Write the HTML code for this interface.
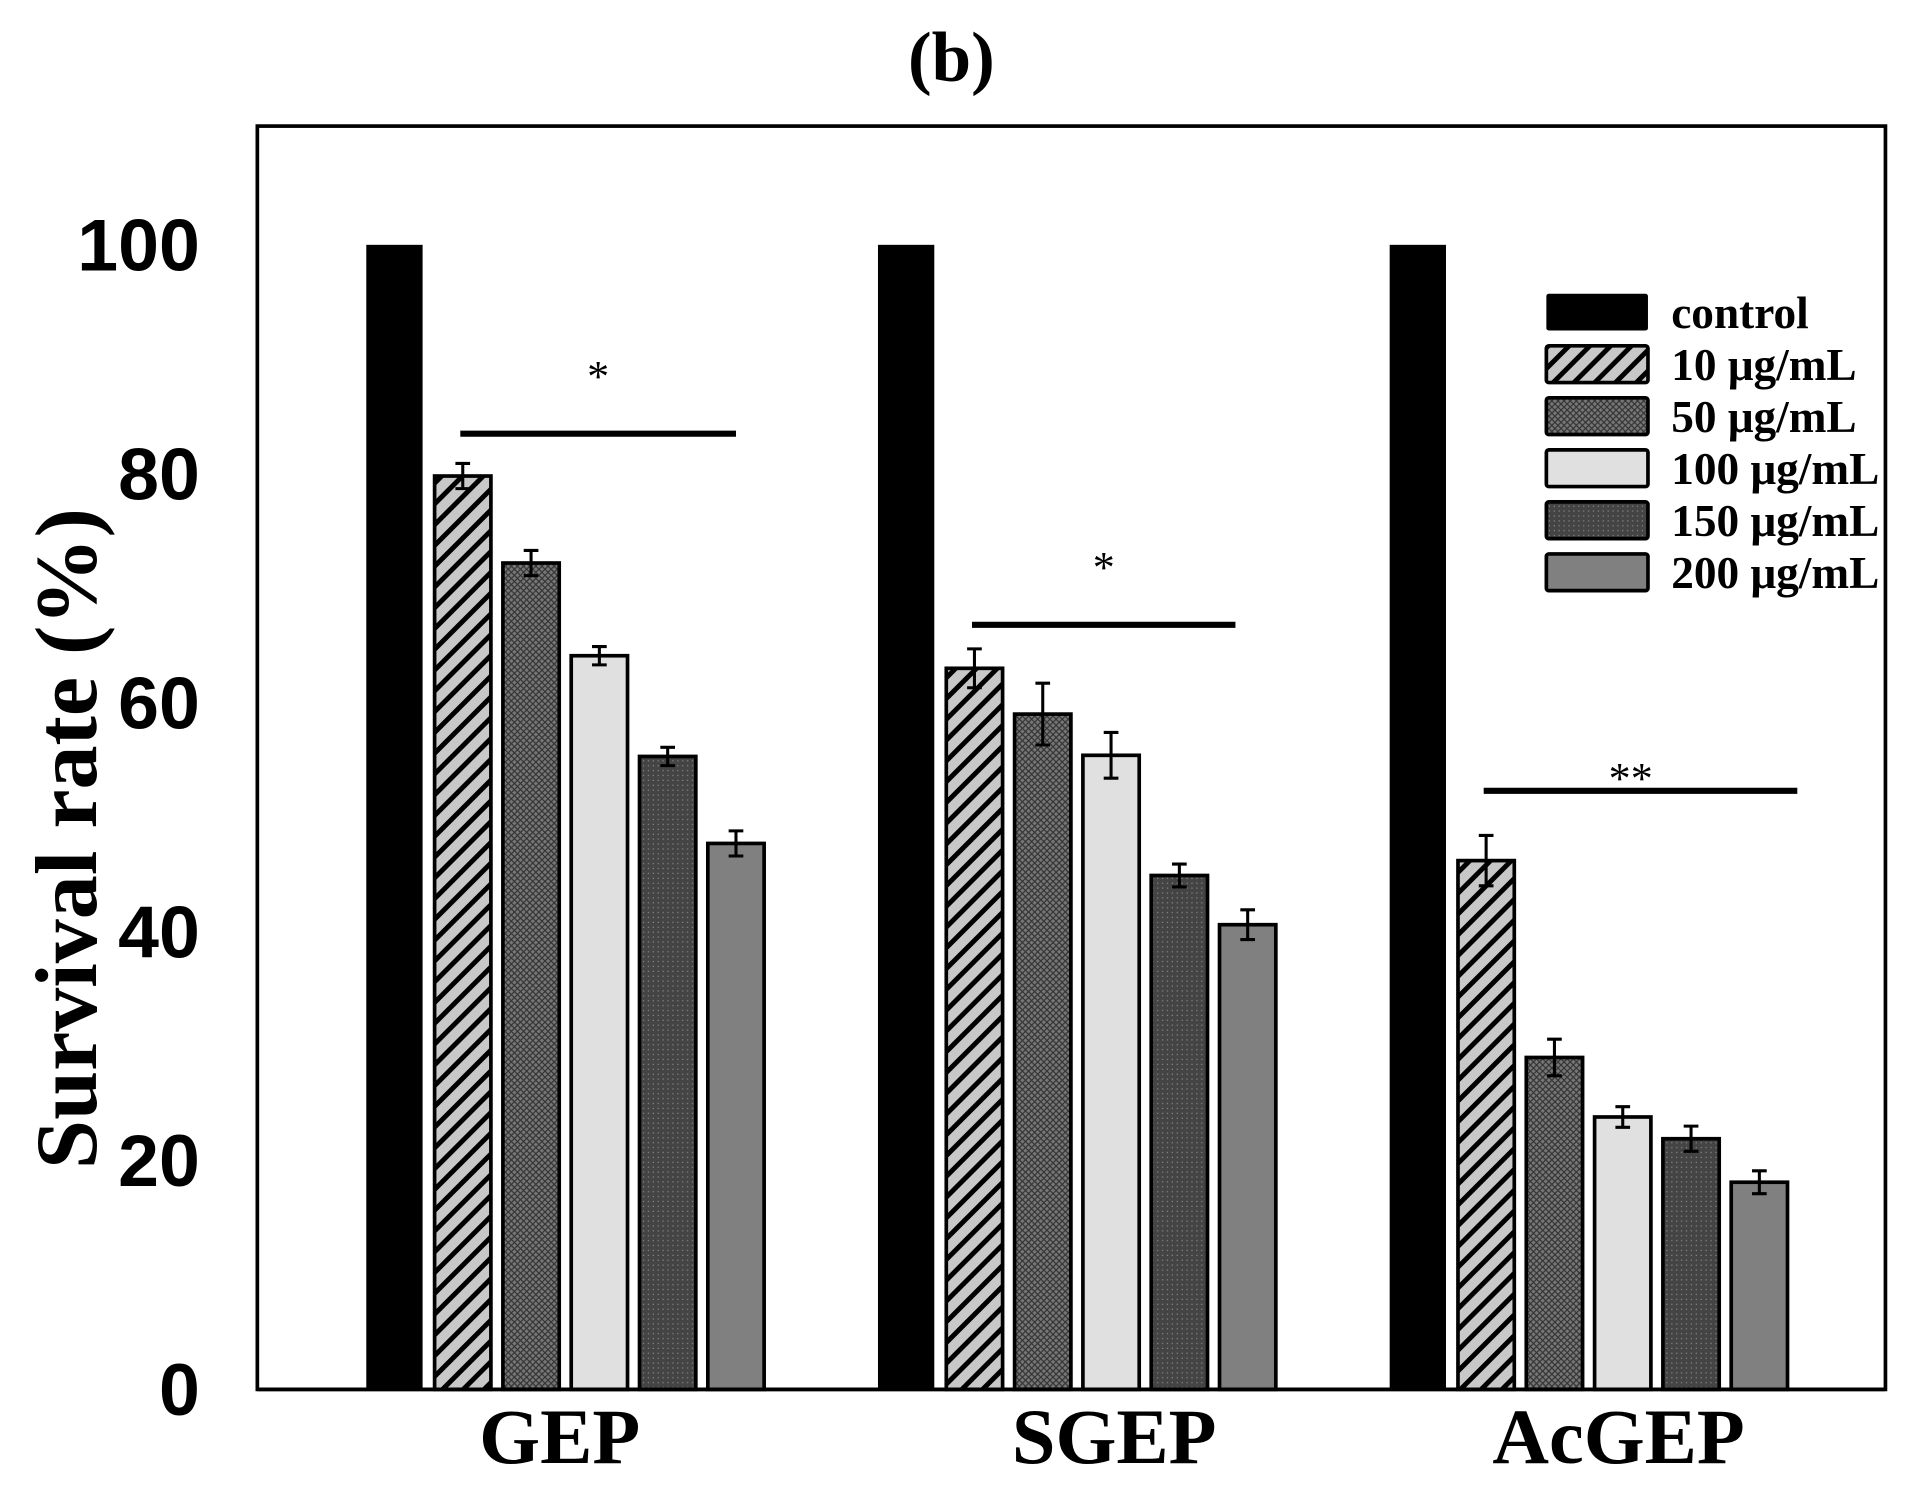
<!DOCTYPE html>
<html><head><meta charset="utf-8"><style>html,body{margin:0;padding:0;background:#fff}svg{display:block}</style></head>
<body>
<svg id="chart" width="1920" height="1491" viewBox="0 0 1568 1218" xmlns="http://www.w3.org/2000/svg">
<defs>
<pattern id="p10" patternUnits="userSpaceOnUse" width="12" height="12" patternTransform="rotate(45)"><rect width="12" height="12" fill="#c8c8c8"/><rect width="4" height="12" fill="#000"/></pattern>
<pattern id="p50" patternUnits="userSpaceOnUse" width="5" height="5"><rect width="5" height="5" fill="#777"/><path d="M0 0L5 5M5 0L0 5" stroke="#333" stroke-width="1"/></pattern>
<pattern id="p150" patternUnits="userSpaceOnUse" width="4" height="4"><rect width="4" height="4" fill="#444"/><rect x="1" y="1" width="1" height="1" fill="#888"/></pattern>
</defs>
<text x="777" y="66" text-anchor="middle" font-family="Liberation Serif, serif" font-weight="bold" font-size="58">(b)</text>
<rect x="210" y="103" width="1330" height="1032" fill="none" stroke="#000" stroke-width="3"/>
<text transform="translate(78,685) rotate(-90)" text-anchor="middle" font-family="Liberation Serif, serif" font-weight="bold" font-size="72">Survival rate (%)</text>
<g id="yticks"></g><g id="bars"></g><g id="sig"></g><g id="legend"></g>
</svg>
<script>
const categories=["GEP","SGEP","AcGEP"];
const seriesNames=["control","10 μg/mL","50 μg/mL","100 μg/mL","150 μg/mL","200 μg/mL"];
const gepValues=[100,79.8,72.2,64.1,55.3,47.7];
const sgepValues=[100,63.0,59.0,55.4,44.9,40.6];
const acgepValues=[100,46.2,29.0,23.8,21.9,18.1];
const gepErrors=[0,1.1,1.1,0.8,0.8,1.1];
const sgepErrors=[0,1.7,2.7,2.0,1.0,1.3];
const acgepErrors=[0,2.2,1.6,0.9,1.1,1.0];
const yTicks=[0,20,40,60,80,100];
const sigLabels=["*","*","**"];
const sigLevels=[83.5,66.8,52.3];

const NS="http://www.w3.org/2000/svg";
const fills=["#000","url(#p10)","url(#p50)","#e0e0e0","url(#p150)","#808080"];
const labelOffsets=[158,193,187];
const sigEndExtra=[0,-10,31];
const y=v=>1135-v*9.35;
const groupX=i=>299+i*418;
const barX=(g,s)=>groupX(g)+s*55.8;
const BW=46;
function mk(tag,attrs,parent){const e=document.createElementNS(NS,tag);for(const k in attrs)e.setAttribute(k,attrs[k]);parent.appendChild(e);return e;}
const yt=document.getElementById('yticks');
yTicks.forEach(t=>{
 const e=mk('text',{x:163,y:y(t)+21,'text-anchor':'end','font-family':'Liberation Sans, sans-serif','font-weight':'bold','font-size':60},yt);
 
 
 e.textContent=t;
});
const vals=[gepValues,sgepValues,acgepValues],errs=[gepErrors,sgepErrors,acgepErrors];
const bg=document.getElementById('bars');
categories.forEach((c,g)=>{
 vals[g].forEach((v,s)=>{
  const x=barX(g,s);
  const r=mk('rect',{x:x,y:y(v),width:BW,height:y(0)-y(v),fill:fills[s],stroke:'#000','stroke-width':s?3:0},bg);
  
  
  const er=errs[g][s];
  if(er>0){
   const cx=x+BW/2;
   const p=mk('path',{d:`M${cx} ${y(v+er)}V${y(v-er)}M${cx-6} ${y(v+er)}H${cx+6}M${cx-6} ${y(v-er)}H${cx+6}`,stroke:'#000','stroke-width':2.5,fill:'none'},bg);
   
   
  }
 });
 const lt=mk('text',{x:groupX(g)+labelOffsets[g],y:1195,'text-anchor':'middle','font-family':'Liberation Serif, serif','font-weight':'bold','font-size':64},bg);
 
 
 lt.textContent=c;
});
const ax=mk('line',{x1:210,x2:1540,y1:1135,y2:1135,stroke:'#000','stroke-width':3},bg);


const sg=document.getElementById('sig');
categories.forEach((c,g)=>{
 const x1=barX(g,1)+21,x2=barX(g,5)+BW/2+sigEndExtra[g];
 const l=mk('line',{x1:x1,x2:x2,y1:y(sigLevels[g]),y2:y(sigLevels[g]),stroke:'#000','stroke-width':5},sg);
 
 
 const t=mk('text',{x:(x1+x2)/2-(g==2?8:0),y:y(sigLevels[g])-(g==2?-2:35),'text-anchor':'middle','font-family':'Liberation Serif, serif','font-size':36},sg);
 
 
 t.textContent=sigLabels[g];
});
const lg=document.getElementById('legend');
seriesNames.forEach((n,s)=>{
 const yy=240+s*42.5;
 const r=mk('rect',{x:1263,y:yy,width:83,height:30,fill:fills[s],stroke:'#000','stroke-width':s?3:0,rx:2},lg);
 
 
 const t=mk('text',{x:1365,y:yy+28,'font-family':'Liberation Serif, serif','font-weight':'bold','font-size':37},lg);
 
 
 t.textContent=n;
});
</script>
</body></html>
